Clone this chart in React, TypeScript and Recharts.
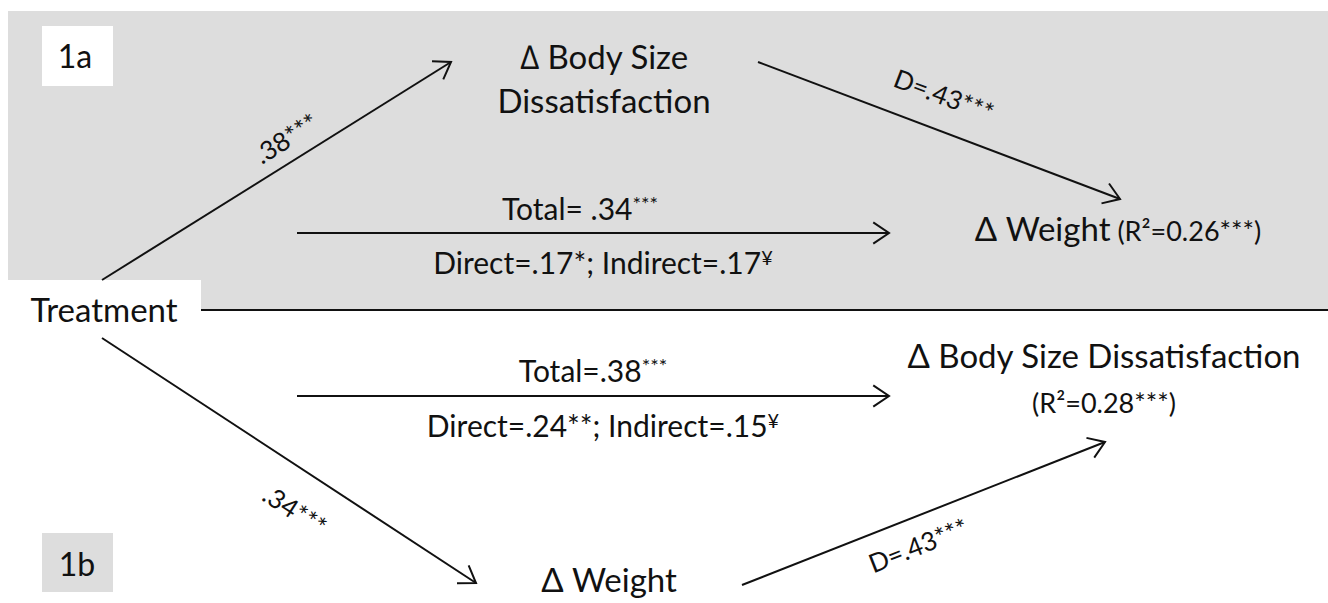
import React from 'react';
import { ComposedChart, XAxis, YAxis, ReferenceArea, ReferenceLine, Scatter } from 'recharts';

const W = 1328;
const H = 603;
const FONT = 'Lato, "Open Sans", sans-serif';
const INK = '#111111';
const GRAY = '#dddddd';

// ---- data: path coefficients (edges) ----
const edgeFrom = ['Treatment', 'ΔBSD', 'Treatment', 'Treatment', 'ΔWeight', 'Treatment'];
const edgeTo = ['ΔBSD', 'ΔWeight', 'ΔWeight', 'ΔWeight', 'ΔBSD', 'ΔBSD'];
const edgeStartX = [102, 758, 297, 102, 742, 297];
const edgeStartY = [280, 62, 233, 338, 585, 396];
const edgeEndX = [451, 1120, 889, 476, 1105, 889];
const edgeEndY = [62, 199, 233, 583, 442, 396];

// ---- data: separator between panel 1a and 1b ----
const separator = [{ x: 201, y: 310 }, { x: 1328, y: 310 }];

// ---- data: text labels ----
const labelText = [
  '1a', '1b', 'Treatment',
  '∆ Body Size', 'Dissatisfaction', 'Δ Weight',
  'Total= .34', 'Direct=.17*; Indirect=.17',
  'Δ Body Size Dissatisfaction', '(R²=0.28***)',
  'Total=.38', 'Direct=.24**; Indirect=.15',
  'Δ Weight',
  '.38***', 'D=.43***', '.34***', 'D=.43***',
];
const labelSup = ['', '', '', '', '', '', '***', '¥', '', '', '***', '¥', '', '', '', '', ''];
const labelTail = ['', '', '', '', '', ' (R²=0.26***)', '', '', '', '', '', '', '', '', '', '', ''];
const labelRole = [
  'tag', 'tag', 'node',
  'node', 'node', 'node',
  'effect', 'effect',
  'node', 'r2',
  'effect', 'effect',
  'node',
  'coef', 'coef', 'coef', 'coef',
];
const labelX = [75, 77, 104, 604, 604, 1118, 580, 603, 1104, 1104, 593, 603, 609, 286, 944, 295, 918];
const labelY = [68, 576, 322, 69, 113, 241, 220, 274, 368, 413, 382, 437, 592, 138, 95, 510, 545];
const labelAngle = [0, 0, 0, 0, 0, 0, 0, 0, 0, 0, 0, 0, 0, -32, 20.7, 33, -21.5];

const ROLE_STYLE: Record<string, { size: number; tail?: number }> = {
  tag: { size: 32 },
  node: { size: 33, tail: 27 },
  effect: { size: 30 },
  r2: { size: 27 },
  coef: { size: 26 },
};

const labels = labelText.map((t, i) => ({
  x: labelX[i],
  y: labelY[i],
  text: t,
  sup: labelSup[i],
  tail: labelTail[i],
  role: labelRole[i],
  angle: labelAngle[i],
}));

const edges = edgeFrom.map((f, i) => ({
  from: f,
  to: edgeTo[i],
  start: { x: edgeStartX[i], y: edgeStartY[i] },
  end: { x: edgeEndX[i], y: edgeEndY[i] },
}));

const ArrowShape = (props: any) => {
  const { x1, y1, x2, y2 } = props;
  const ang = Math.atan2(y2 - y1, x2 - x1);
  const len = 19;
  const spread = (34 * Math.PI) / 180;
  const ax = x2 - len * Math.cos(ang - spread);
  const ay = y2 - len * Math.sin(ang - spread);
  const bx = x2 - len * Math.cos(ang + spread);
  const by = y2 - len * Math.sin(ang + spread);
  return (
    <g>
      <line x1={x1} y1={y1} x2={x2} y2={y2} stroke={INK} strokeWidth={2} />
      <polyline
        points={`${ax},${ay} ${x2},${y2} ${bx},${by}`}
        fill="none"
        stroke={INK}
        strokeWidth={2}
        strokeLinejoin="miter"
      />
    </g>
  );
};

const PlainLine = (props: any) => {
  const { x1, y1, x2, y2 } = props;
  return <line x1={x1} y1={y1} x2={x2} y2={y2} stroke={INK} strokeWidth={2.2} />;
};

const LabelShape = (props: any) => {
  const { cx, cy, payload } = props;
  const st = ROLE_STYLE[payload.role];
  const rotated = payload.angle !== 0;
  const supSize = Math.round(st.size * 0.66);
  return (
    <text
      x={cx}
      y={cy}
      textAnchor="middle"
      dominantBaseline={rotated ? 'central' : 'alphabetic'}
      fontFamily={FONT}
      fontSize={st.size}
      fill={INK}
      transform={rotated ? `rotate(${payload.angle} ${cx} ${cy})` : undefined}
    >
      {payload.text}
      {payload.sup ? (
        <tspan fontSize={supSize} dy={-st.size * 0.3}>
          {payload.sup}
        </tspan>
      ) : null}
      {payload.tail ? <tspan fontSize={st.tail}>{payload.tail}</tspan> : null}
    </text>
  );
};

export default function App() {
  return (
    <div style={{ position: 'absolute', left: 0, top: 0, width: W, height: H, background: '#ffffff' }}>
      <ComposedChart width={W} height={H} margin={{ top: 0, right: 0, bottom: 0, left: 0 }}>
        <XAxis dataKey="x" type="number" domain={[0, W]} hide allowDataOverflow />
        <YAxis dataKey="y" type="number" domain={[0, H]} reversed hide allowDataOverflow />
        {/* panel 1a background */}
        <ReferenceArea x1={8} x2={W} y1={11} y2={309} fill={GRAY} fillOpacity={1} stroke="none" ifOverflow="visible" />
        {/* Treatment white box */}
        <ReferenceArea x1={8} x2={201} y1={280} y2={312} fill="#ffffff" fillOpacity={1} stroke="none" ifOverflow="visible" />
        {/* panel tags */}
        <ReferenceArea x1={42} x2={113} y1={26} y2={86} fill="#ffffff" fillOpacity={1} stroke="none" ifOverflow="visible" />
        <ReferenceArea x1={42} x2={113} y1={533} y2={592} fill={GRAY} fillOpacity={1} stroke="none" ifOverflow="visible" />
        <ReferenceLine segment={separator} shape={PlainLine} ifOverflow="visible" />
        {edges.map((e, i) => (
          <ReferenceLine key={i} segment={[e.start, e.end]} shape={ArrowShape} ifOverflow="visible" />
        ))}
        <Scatter data={labels} dataKey="y" shape={LabelShape} isAnimationActive={false} />
      </ComposedChart>
    </div>
  );
}
